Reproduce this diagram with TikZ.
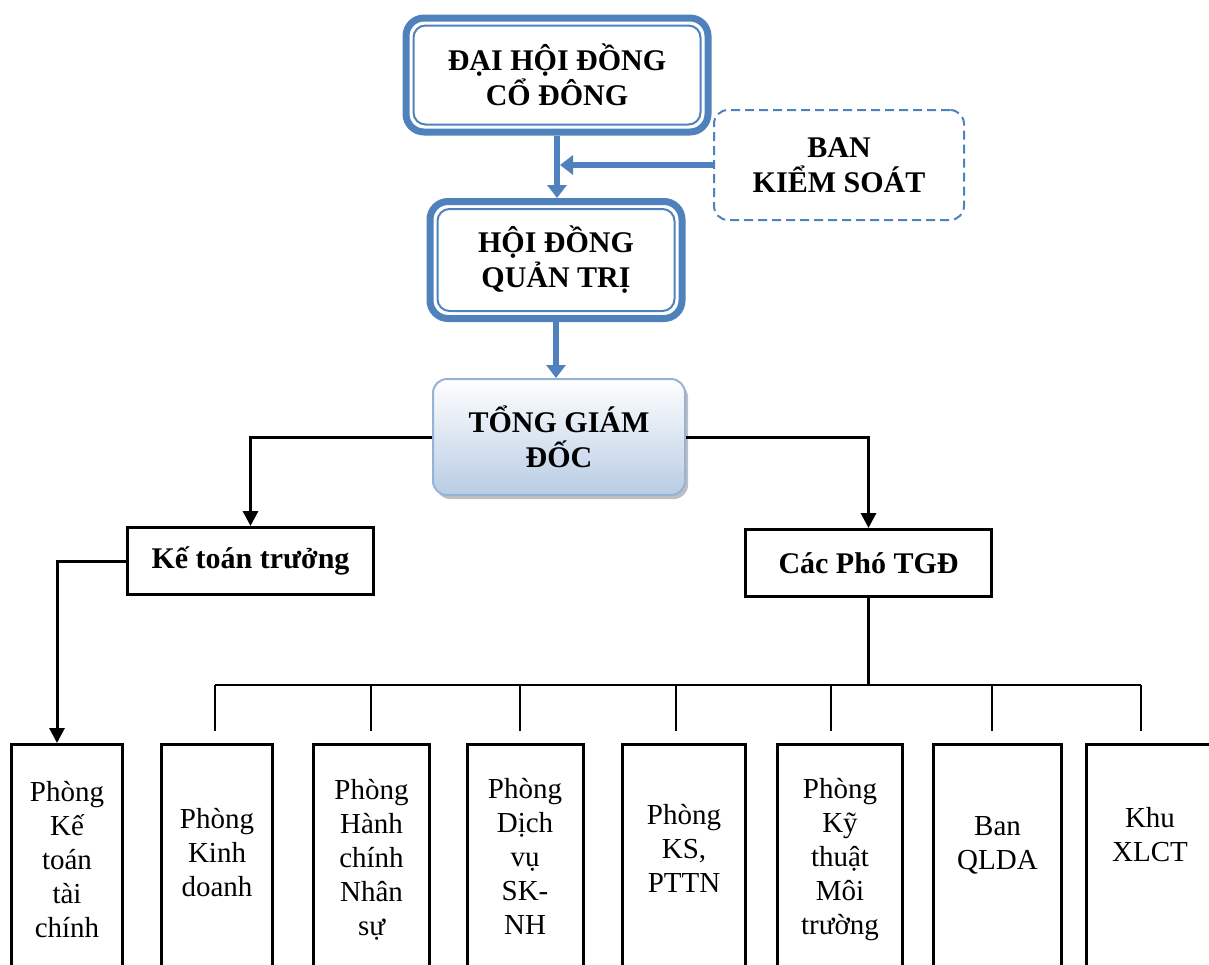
\documentclass[tikz,border=0pt]{standalone}
\usepackage{fontspec}
\setmainfont{Liberation Serif}
\usetikzlibrary{arrows.meta,shadows}
\definecolor{frameblue}{RGB}{79,129,189}
\definecolor{tgdborder}{RGB}{149,179,215}
\definecolor{tgdfill}{RGB}{184,204,228}
\newcommand\BlueFrame[1]{%
    \draw[frameblue,line width=1pt,rounded corners=6pt]
        ([shift={(11,11)}]#1.north west) rectangle ([shift={(-11,-11)}]#1.south east);
}

\begin{document}
\begin{tikzpicture}[x=0.5pt,y=-0.5pt,
    council/.style={draw=frameblue,line width=3.5pt,rounded corners=9pt,align=center,
        font=\fontsize{15}{17.5}\selectfont\bfseries},
    control/.style={draw=frameblue,line width=1pt,dash pattern=on 4.5pt off 2.5pt,
        rounded corners=7pt,align=center,minimum width=125pt,minimum height=55pt,
        font=\fontsize{15}{17.5}\selectfont\bfseries},
    chief/.style={draw=tgdborder,line width=1pt,rounded corners=7pt,align=center,
        top color=white,bottom color=tgdfill,
        drop shadow={shadow xshift=1.5pt,shadow yshift=-2pt,fill=gray},
        font=\fontsize{15}{17.5}\selectfont\bfseries},
    aide/.style={draw,line width=1.5pt,minimum width=123pt,minimum height=33.5pt,
        font=\fontsize{15}{17.5}\selectfont\bfseries},
    unit/.style={draw,line width=1.5pt,minimum height=122pt},
    unittext/.style={align=center,font=\fontsize{14.5}{17}\selectfont},
    blueflow/.style={frameblue,line width=3pt,-{Triangle[length=6.5pt,width=9.5pt]}},
    chieflink/.style={line width=1.5pt,-{Triangle[length=7.5pt,width=7.5pt]}},
    drop/.style={line width=1.3pt}]
\useasboundingbox (0,0) rectangle (1209,964);
% governing bodies
\node[council,minimum width=151pt,minimum height=57pt] (dhdcd) at (557,75) {ĐẠI HỘI ĐỒNG\\CỔ ĐÔNG};
\BlueFrame{dhdcd}
\node[council,minimum width=126pt,minimum height=58.5pt] (hdqt) at (556,260) {HỘI ĐỒNG\\QUẢN TRỊ};
\BlueFrame{hdqt}
\node[control] (bks) at (839,165) {BAN\\KIỂM SOÁT};
\node[chief,minimum width=126pt,minimum height=58pt] (tgd) at (559,437) {TỔNG GIÁM\\ĐỐC};
\draw[blueflow] (dhdcd.south) -- (dhdcd.south |- hdqt.north);
\draw[blueflow,shorten >=1.5pt] (bks.west) -- (bks.west -| dhdcd.south);
\draw[blueflow] (hdqt.south) -- (hdqt.south |- tgd.north);
% second level
\node[aide] (ktt) at (250.5,561) {Kế toán trưởng};
\node[aide] (cpt) at (868.5,563) {Các Phó TGĐ};
\draw[chieflink] (tgd.west) -| (ktt.north);
\draw[chieflink] (tgd.east) -| (cpt.north);
% departments
\foreach \n/\x/\w/\ty/\txt in {
    1/67/114/860/{Phòng\\Kế\\toán\\tài\\chính},
    2/217/114/853/{Phòng\\Kinh\\doanh},
    3/371.5/119/860/{Phòng\\Hành\\chính\\Nhân\\sự},
    4/525/119/856/{Phòng\\Dịch\\vụ\\SK-\\NH},
    5/684/126/848/{Phòng\\KS,\\PTTN},
    6/840/128/860/{Phòng\\Kỹ\\thuật\\Môi\\trường},
    7/997.5/131/845/{Ban\\QLDA},
    8/1150/130/835/{Khu\\XLCT}}
{
    \node[unit,minimum width={(\w-3)*0.5pt}] (u\n) at (\x,866.5) {};
    \node[unittext] (t\n) at (\x,\ty) {\txt};
}
\draw[chieflink] (ktt.west) -| ([xshift=-5pt]u1.north);
\coordinate (bus) at (0,685);
\foreach \n/\dx in {2/215,3/371,4/520,5/676,6/831,7/992,8/1141}
    \coordinate (d\n) at (\dx,685);
\draw[drop] (cpt.south) -- (cpt.south |- bus);
\draw[line width=1pt] (d2) -- (d8);
\foreach \n in {2,...,8}
    \draw[drop,shorten >=6pt] (d\n) -- (d\n |- u\n.north);
\end{tikzpicture}
\end{document}
